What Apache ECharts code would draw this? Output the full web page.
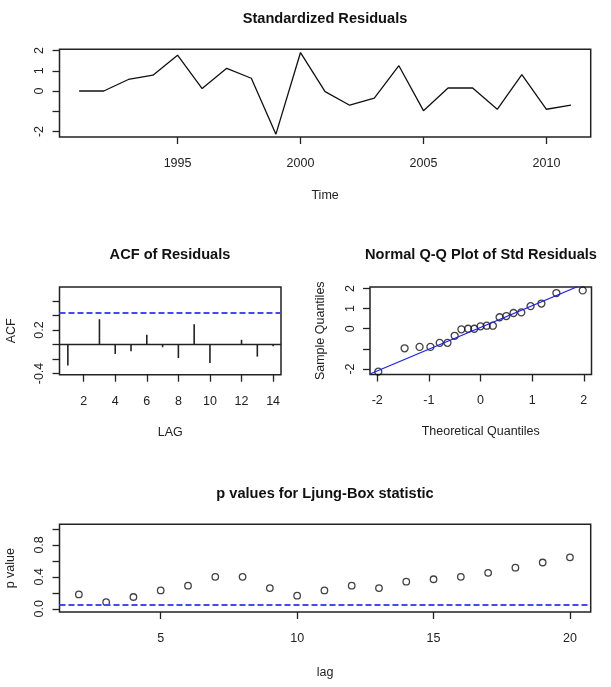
<!DOCTYPE html>
<html>
<head>
<meta charset="utf-8">
<script src="https://cdn.jsdelivr.net/npm/echarts@6/dist/echarts.min.js"></script>
<style>html,body{margin:0;padding:0;background:#fff}#c{width:611px;height:687px}</style>
</head>
<body>
<div id="c"></div>
<script>
// ---- data ----
const years = [1991,1992,1993,1994,1995,1996,1997,1998,1999,2000,2001,2002,2003,2004,2005,2006,2007,2008,2009,2010,2011];
const residuals = [0.0,0.0,0.57,0.78,1.77,0.12,1.12,0.63,-2.13,1.9,-0.03,-0.7,-0.35,1.25,-0.97,0.15,0.15,-0.9,0.81,-0.9,-0.7];
const acfLags = [1,2,3,4,5,6,7,8,9,10,11,12,13,14];
const acfValues = [-0.29,0.004,0.35,-0.13,-0.093,0.135,-0.037,-0.186,0.279,-0.256,-0.004,0.065,-0.167,-0.023];
const acfBound = 0.44;
const qqTheoretical = [-1.98,-1.47,-1.18,-0.97,-0.79,-0.64,-0.50,-0.37,-0.24,-0.12,0,0.12,0.24,0.37,0.50,0.64,0.79,0.97,1.18,1.47,1.98];
const qqLineX = [-2.14, 2.14];
const qqLineY = [-2.25, 2.37];
const lbLags = [2,3,4,5,6,7,8,9,10,11,12,13,14,15,16,17,18,19,20];
const lbPValues = [0.18,0.083,0.148,0.23,0.29,0.40,0.40,0.26,0.165,0.23,0.29,0.26,0.34,0.37,0.40,0.45,0.515,0.58,0.645];
const lbLevel = 0.05;
const titles = ['Standardized Residuals','ACF of Residuals','Normal Q-Q Plot of Std Residuals','p values for Ljung-Box statistic'];
const tsTicks = [1995,2000,2005,2010];
const tsYTicks = [-2,-1,0,1,2];
const tsYLabels = [-2,0,1,2];
const acfXTicks = [2,4,6,8,10,12,14];
const acfYTicks = [-0.4,-0.2,0,0.2,0.4,0.6];
const acfYLabels = [-0.4,0.2];
const qqXTicks = [-2,-1,0,1,2];
const qqYTicks = [-2,-1,0,1,2];
const qqYLabels = [-2,0,1,2];
const lbXTicks = [5,10,15,20];
const lbYTicks = [0,0.2,0.4,0.6,0.8,1.0];
const lbYLabels = [0,0.4,0.8];

// ---- build ----
const FONT = "'Liberation Sans Narrow','Arial Narrow','Liberation Sans',Arial,sans-serif";
const INK = '#222';
const FS = 12.5;
const sorted = residuals.slice().sort((a,b)=>a-b);

function xAx(grid, min, max, ticks, labels, name, gap, fmt){
  return {type:'value', gridIndex:grid, min:min, max:max,
    axisLine:{show:false, onZero:false}, splitLine:{show:false},
    axisTick:{show:true, inside:false, length:7, customValues:ticks, lineStyle:{color:INK,width:1.3}},
    axisLabel:{show:true, customValues:labels, margin:20, color:INK, fontFamily:FONT, fontSize:FS, formatter:fmt||(v=>String(v))},
    name:name, nameLocation:'middle', nameGap:gap, nameTextStyle:{color:INK,fontFamily:FONT,fontSize:FS}};
}
function yAx(grid, min, max, ticks, labels, name, gap, fmt){
  return {type:'value', gridIndex:grid, min:min, max:max,
    axisLine:{show:false, onZero:false}, splitLine:{show:false},
    axisTick:{show:true, inside:false, length:7, customValues:ticks, lineStyle:{color:INK,width:1.3}},
    axisLabel:{show:true, customValues:labels, rotate:90, margin:13, color:INK, fontFamily:FONT, fontSize:FS, formatter:fmt||(v=>String(v))},
    name:name, nameLocation:'middle', nameGap:gap, nameRotate:90, nameTextStyle:{color:INK,fontFamily:FONT,fontSize:FS}};
}
const gridStyle = {show:true, borderColor:INK, borderWidth:1.5, backgroundColor:'transparent', containLabel:false, outerBoundsMode:'none'};
const titleStyle = {color:'#111', fontFamily:FONT, fontSize:14.6, fontWeight:'bold'};

const option = {
  animation:false,
  backgroundColor:'#fff',
  title:[
    {text:titles[0], left:325, top:11, textAlign:'center', padding:0, textStyle:titleStyle},
    {text:titles[1], left:170, top:247, textAlign:'center', padding:0, textStyle:titleStyle},
    {text:titles[2], left:481, top:247, textAlign:'center', padding:0, textStyle:titleStyle},
    {text:titles[3], left:325, top:486, textAlign:'center', padding:0, textStyle:titleStyle}
  ],
  grid:[
    Object.assign({left:59.5, top:49.3, width:531.2, height:87.7}, gridStyle),
    Object.assign({left:59.5, top:287, width:221.5, height:87.7}, gridStyle),
    Object.assign({left:370, top:287, width:221.5, height:87.5}, gridStyle),
    Object.assign({left:59.5, top:524.3, width:531.2, height:87.7}, gridStyle)
  ],
  xAxis:[
    xAx(0, 1990.2, 2011.8, tsTicks, tsTicks, 'Time', 52),
    xAx(1, 0.47, 14.5, acfXTicks, acfXTicks, 'LAG', 51),
    xAx(2, -2.14, 2.15, qqXTicks, qqXTicks, 'Theoretical Quantiles', 51),
    xAx(3, 1.29, 20.76, lbXTicks, lbXTicks, 'lag', 54)
  ],
  yAxis:[
    yAx(0, -2.27, 2.06, tsYTicks, tsYLabels, '', 40),
    yAx(1, -0.417, 0.795, acfYTicks, acfYLabels, 'ACF', 41, v=>v.toFixed(1)),
    yAx(2, -2.27, 2.07, qqYTicks, qqYLabels, 'Sample Quantiles', 43),
    yAx(3, -0.04, 1.058, lbYTicks, lbYLabels, 'p value', 42, v=>v.toFixed(1))
  ],
  series:[
    {type:'line', xAxisIndex:0, yAxisIndex:0, data:years.map((y,i)=>[y,residuals[i]]),
      symbol:'none', lineStyle:{color:'#111', width:1.3}},
    {type:'bar', xAxisIndex:1, yAxisIndex:1, data:acfLags.map((l,i)=>[l,acfValues[i]]),
      barWidth:1.6, itemStyle:{color:'#222'},
      markLine:{silent:true, symbol:'none', label:{show:false},
        data:[
          {yAxis:0, lineStyle:{color:'#222', width:1.3, type:'solid'}},
          {yAxis:acfBound, lineStyle:{color:'#4646ff', width:2, type:[6,3]}}
        ]}},
    {type:'line', xAxisIndex:2, yAxisIndex:2, data:qqLineX.map((x,i)=>[x,qqLineY[i]]),
      symbol:'none', clip:true, lineStyle:{color:'#1a1aff', width:1.1}},
    {type:'scatter', xAxisIndex:2, yAxisIndex:2, data:qqTheoretical.map((q,i)=>[q,sorted[i]]),
      symbol:'circle', symbolSize:7, itemStyle:{color:'rgba(0,0,0,0)', borderColor:'#111', borderWidth:1.3}},
    {type:'scatter', xAxisIndex:3, yAxisIndex:3, data:lbLags.map((l,i)=>[l,lbPValues[i]]),
      symbol:'circle', symbolSize:6.5, itemStyle:{color:'rgba(0,0,0,0)', borderColor:'#111', borderWidth:1.3},
      markLine:{silent:true, symbol:'none', label:{show:false},
        data:[{yAxis:lbLevel, lineStyle:{color:'#4646ff', width:2, type:[6,3]}}]}}
  ]
};
const chart = echarts.init(document.getElementById('c'), null, {renderer:'canvas'});
chart.setOption(option);
</script>
</body>
</html>
